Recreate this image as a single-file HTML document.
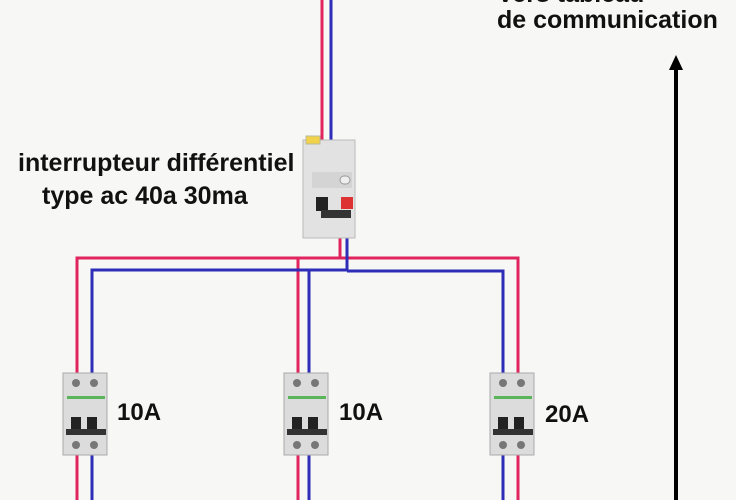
<!DOCTYPE html>
<html><head><meta charset="utf-8"><style>
body{margin:0;width:736px;height:500px;background:#f7f7f5;overflow:hidden;position:relative;font-family:"Liberation Sans",Arial,sans-serif}
.t{position:absolute;font-weight:bold;color:#111;white-space:nowrap;line-height:1}
</style></head><body>
<svg width="736" height="500" style="position:absolute;left:0;top:0">
<defs>
<g id="mcb">
<rect x="0" y="0" width="44" height="82" fill="#dcdcdc" stroke="#aaa"/>
<circle cx="13" cy="10" r="4" fill="#777"/><circle cx="31" cy="10" r="4" fill="#777"/>
<circle cx="13" cy="72" r="4" fill="#777"/><circle cx="31" cy="72" r="4" fill="#777"/>
<rect x="4" y="23" width="38" height="3" fill="#5ab55a"/>
<rect x="8" y="44" width="10" height="14" fill="#222"/><rect x="24" y="44" width="10" height="14" fill="#222"/>
<rect x="3" y="56" width="40" height="6" fill="#333"/>
</g>
</defs>
<g fill="none" stroke-width="3">
<path d="M322 0V150" stroke="#e0245e"/>
<path d="M331 0V150" stroke="#2d2db8"/>
<path d="M340 232V258H77V500M298 258V500M340 258H518V500" stroke="#e0245e"/>
<path d="M347 232V270H92V500M309 270V500M347 271H503V500" stroke="#2d2db8"/>
</g>
<g>
<rect x="303" y="140" width="52" height="98" fill="#e2e2e2" stroke="#bbb"/>
<rect x="306" y="136" width="14" height="8" fill="#f2d24a" stroke="#bb9"/>
<rect x="312" y="172" width="40" height="16" fill="#d4d4d4"/>
<rect x="340" y="176" width="10" height="8" rx="4" fill="#eee" stroke="#999"/>
<rect x="316" y="197" width="12" height="14" fill="#222"/>
<rect x="341" y="197" width="12" height="12" fill="#d33"/>
<rect x="321" y="210" width="30" height="8" fill="#333"/>
</g>
<use href="#mcb" x="63" y="373"/>
<use href="#mcb" x="284" y="373"/>
<use href="#mcb" x="490" y="373"/>
<path d="M676 500V68" stroke="#000" stroke-width="4"/>
<path d="M669 70L676 55L683 70Z" fill="#000"/>
</svg>
<div class="t" style="left:497px;top:-18px;font-size:25px">Vers tableau</div>
<div class="t" style="left:497px;top:8px;font-size:25px">de communication</div>
<div class="t" style="left:18px;top:151px;font-size:25px">interrupteur différentiel</div>
<div class="t" style="left:42px;top:184px;font-size:25px">type ac 40a 30ma</div>
<div class="t" style="left:117px;top:401px;font-size:24px">10A</div>
<div class="t" style="left:339px;top:401px;font-size:24px">10A</div>
<div class="t" style="left:545px;top:403px;font-size:24px">20A</div>
</body></html>
